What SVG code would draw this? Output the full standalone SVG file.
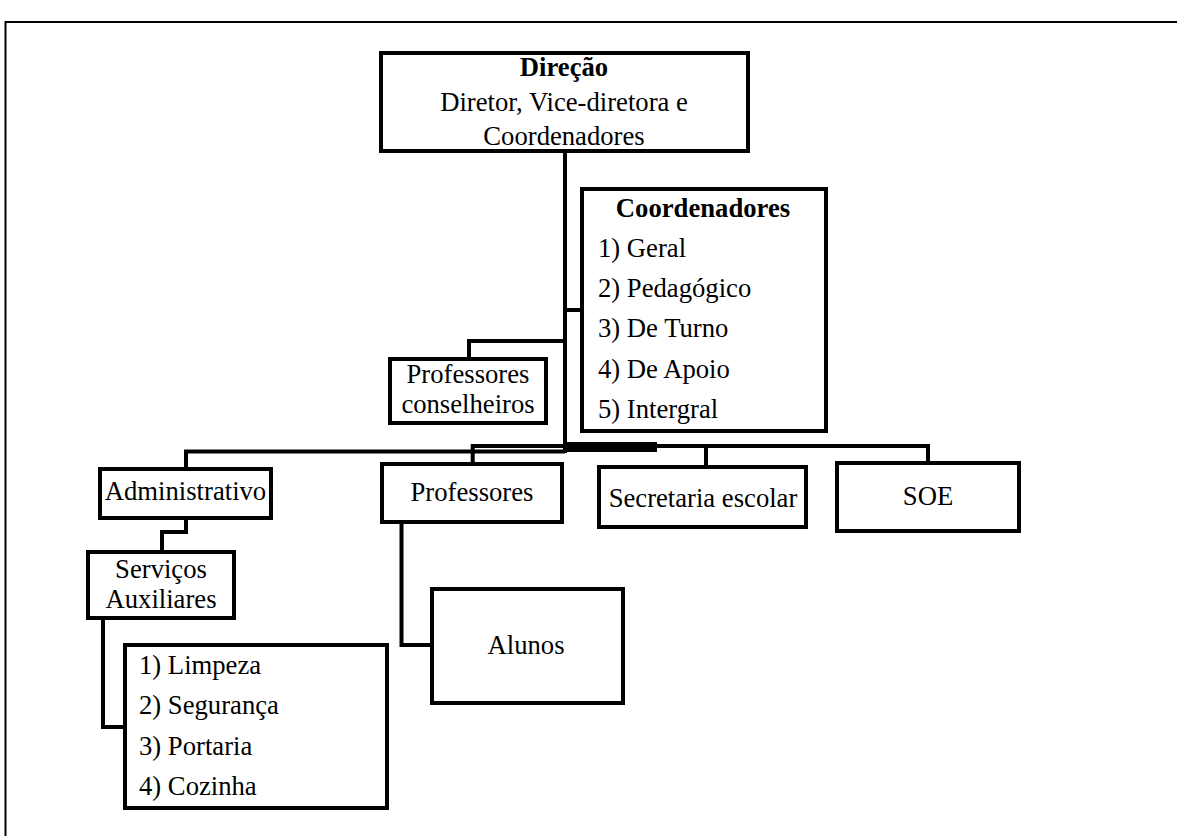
<svg xmlns="http://www.w3.org/2000/svg" width="1177" height="836" viewBox="0 0 1177 836">
<style>
.box{fill:#fff;stroke:#000;stroke-width:4}
.ln{fill:none;stroke:#000;stroke-width:4;stroke-linejoin:miter}
text{font-family:"Liberation Serif","Times New Roman",serif;font-size:26.67px;fill:#000}
.c{text-anchor:middle}
.b{font-weight:bold}
</style>
<rect x="0" y="0" width="1177" height="836" fill="#fff"/>
<path d="M5.5,836 V22 H1177" fill="none" stroke="#000" stroke-width="2"/>
<g id="connectors">
<path class="ln" d="M565,151 V453"/>
<path class="ln" d="M565,310 H582"/>
<path class="ln" d="M565,341 H469 V359"/>
<path class="ln" d="M472.7,464 V446 H928 V463"/>
<rect x="565" y="442" width="92" height="10" fill="#000"/>
<path class="ln" d="M706,446 V467"/>
<path class="ln" d="M186,469 V451.5 H565"/>
<path class="ln" d="M186,518 V532 H162 V552"/>
<path class="ln" d="M103,618 V727 H125"/>
<path class="ln" d="M401.5,522 V645 H432"/>
</g>
<g id="direcao">
<rect class="box" x="381" y="53" width="367" height="98"/>
<text class="c b" x="564" y="76">Direção</text>
<text class="c" x="564" y="111">Diretor, Vice-diretora e</text>
<text class="c" x="564" y="145">Coordenadores</text>
</g>
<g id="coordenadores">
<rect class="box" x="582" y="189" width="244" height="242"/>
<text class="c b" x="703" y="217">Coordenadores</text>
<text x="598" y="257">1) Geral</text>
<text x="598" y="297">2) Pedagógico</text>
<text x="598" y="337">3) De Turno</text>
<text x="598" y="378">4) De Apoio</text>
<text x="598" y="418">5) Intergral</text>
</g>
<g id="professores-conselheiros">
<rect class="box" x="390" y="359" width="156" height="64"/>
<text class="c" x="468" y="383">Professores</text>
<text class="c" x="468" y="413">conselheiros</text>
</g>
<g id="administrativo">
<rect class="box" x="100" y="469" width="171" height="49"/>
<text class="c" x="185.5" y="500">Administrativo</text>
</g>
<g id="professores">
<rect class="box" x="382" y="464" width="180" height="58"/>
<text class="c" x="472" y="501">Professores</text>
</g>
<g id="secretaria">
<rect class="box" x="599" y="467" width="207" height="60"/>
<text class="c" x="703" y="507">Secretaria escolar</text>
</g>
<g id="soe">
<rect class="box" x="837" y="463" width="182" height="68"/>
<text class="c" x="928" y="505">SOE</text>
</g>
<g id="servicos">
<rect class="box" x="88" y="552" width="146" height="66"/>
<text class="c" x="161" y="578">Serviços</text>
<text class="c" x="161" y="608">Auxiliares</text>
</g>
<g id="alunos">
<rect class="box" x="432" y="589" width="191" height="114"/>
<text class="c" x="526" y="654">Alunos</text>
</g>
<g id="servicos-lista">
<rect class="box" x="125" y="645" width="262" height="163"/>
<text x="139" y="674">1) Limpeza</text>
<text x="139" y="714">2) Segurança</text>
<text x="139" y="755">3) Portaria</text>
<text x="139" y="795">4) Cozinha</text>
</g>
</svg>
